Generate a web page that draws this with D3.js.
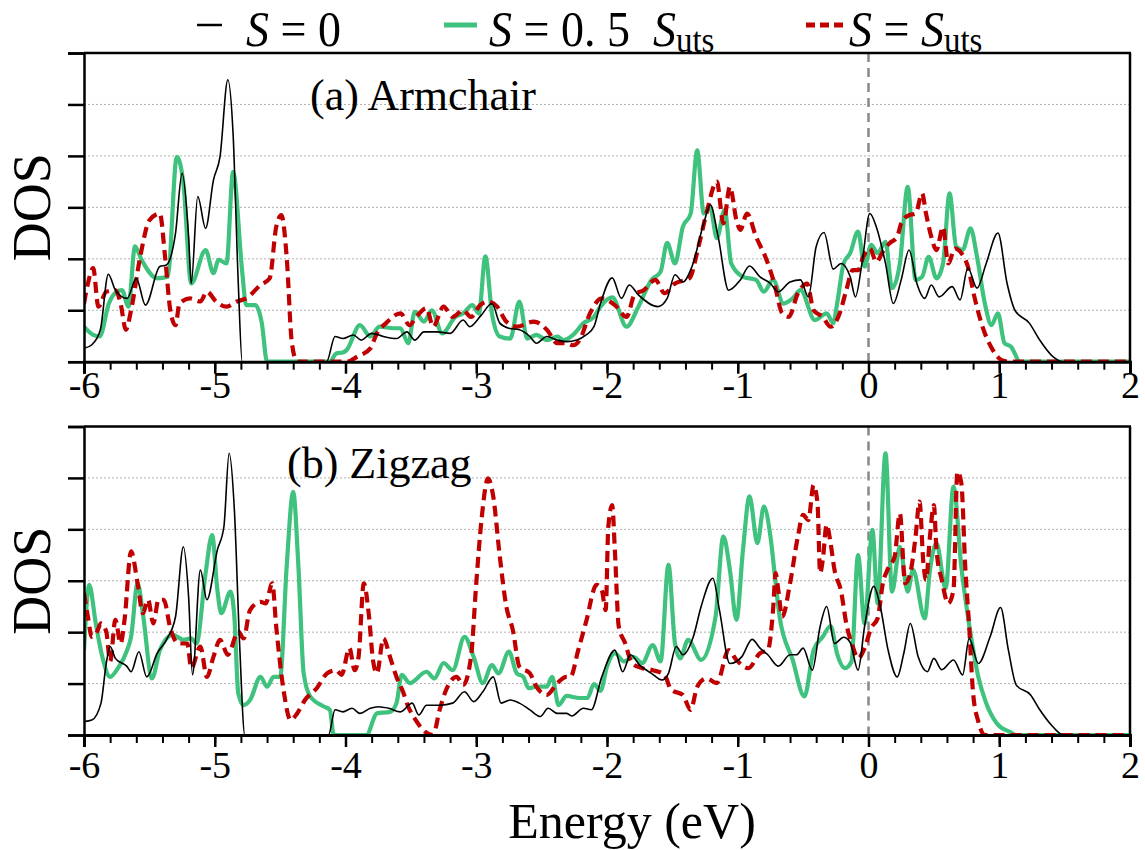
<!DOCTYPE html>
<html>
<head>
<meta charset="utf-8">
<script src="https://cdn.jsdelivr.net/npm/d3@7"></script>
<style>
  body { margin: 0; background: #fff; }
  text { font-family: "Liberation Serif", "Times New Roman", serif; fill: #000; white-space: pre; }
</style>
</head>
<body>
<div id="chart"></div>
<script>
var w = 1145;
var h = 850;

// energy ticks (eV) and DOS ticks
var energyTicks = [-6, -5, -4, -3, -2, -1, 0, 1, 2];
var dosTicks = [0, 1, 2, 3, 4, 5, 6];
var gridTicks = [1, 2, 3, 4, 5];

// (a) Armchair, [energy, DOS]
var armS0 = [[-6,0.26],[-5.94,0.33],[-5.875,0.62],[-5.814,1.70],[-5.76,1.39],[-5.67,1.23],[-5.60,1.62],[-5.53,1.10],[-5.42,1.85],[-5.37,1.88],[-5.30,2.50],[-5.25,3.66],[-5.20,2.43],[-5.18,1.52],[-5.13,3.21],[-5.07,2.59],[-5.01,3.53],[-4.96,3.98],[-4.90,5.48],[-4.86,4.44],[-4.82,1.52],[-4.79,0],[-4.145,0],[-4.08,0.49],[-4.02,0.45],[-3.94,0.52],[-3.88,0.42],[-3.80,0.55],[-3.71,0.49],[-3.61,0.45],[-3.53,0.58],[-3.47,0.42],[-3.40,0.58],[-3.30,0.58],[-3.20,0.55],[-3.10,0.81],[-3.05,0.68],[-2.96,0.91],[-2.88,1.13],[-2.82,0.75],[-2.75,0.65],[-2.67,0.62],[-2.59,0.49],[-2.54,0.36],[-2.46,0.49],[-2.38,0.42],[-2.31,0.39],[-2.23,0.42],[-2.16,0.52],[-2.10,0.68],[-2.05,1.13],[-1.96,1.63],[-1.89,1.23],[-1.83,1.49],[-1.76,1.30],[-1.61,1.07],[-1.54,1.23],[-1.48,1.69],[-1.42,1.55],[-1.35,1.85],[-1.26,2.69],[-1.21,3.05],[-1.15,2.43],[-1.07,1.39],[-0.98,1.59],[-0.91,1.86],[-0.83,1.65],[-0.75,1.52],[-0.69,1.36],[-0.60,1.55],[-0.52,1.59],[-0.46,1.26],[-0.40,2.24],[-0.34,2.51],[-0.27,1.80],[-0.21,1.91],[-0.14,1.65],[-0.10,1.26],[-0.05,1.91],[0.01,2.88],[0.06,2.62],[0.13,1.91],[0.19,1.13],[0.25,1.59],[0.31,2.17],[0.37,1.52],[0.43,1.23],[0.48,1.49],[0.54,1.26],[0.64,1.46],[0.70,1.20],[0.76,1.82],[0.83,1.43],[0.90,1.91],[0.99,2.50],[1.06,1.52],[1.12,1.00],[1.23,0.75],[1.31,0.42],[1.41,0.10],[1.49,0],[2,0]];
var armHalf = [[-6,0.68],[-5.93,0.52],[-5.88,0.49],[-5.81,1.13],[-5.75,1.36],[-5.71,1.39],[-5.66,1.07],[-5.61,2.24],[-5.56,1.98],[-5.44,1.62],[-5.36,1.65],[-5.29,3.98],[-5.24,3.47],[-5.18,1.52],[-5.07,2.17],[-5.01,1.72],[-4.97,1.98],[-4.91,1.91],[-4.86,3.69],[-4.79,1.75],[-4.76,1.10],[-4.69,1.10],[-4.64,0.75],[-4.60,0],[-4.12,0],[-4.07,0.16],[-4.02,0.18],[-3.99,0.23],[-3.89,0.71],[-3.81,0.49],[-3.74,0.68],[-3.63,0.65],[-3.58,0.65],[-3.52,0.36],[-3.47,0.97],[-3.40,0.78],[-3.34,1.00],[-3.26,0.55],[-3.16,0.87],[-3.10,0.94],[-3.03,1.10],[-2.98,0.94],[-2.93,2.05],[-2.88,0.94],[-2.82,0.49],[-2.74,0.45],[-2.67,1.17],[-2.61,0.45],[-2.54,0.52],[-2.46,0.42],[-2.38,0.49],[-2.33,0.42],[-2.26,0.52],[-2.18,0.75],[-2.10,0.87],[-2.05,1.07],[-1.96,1.25],[-1.85,0.68],[-1.76,1.07],[-1.66,1.59],[-1.59,1.75],[-1.54,2.31],[-1.48,1.91],[-1.42,2.62],[-1.36,2.88],[-1.31,4.11],[-1.26,2.88],[-1.21,2.98],[-1.16,2.40],[-1.10,2.95],[-1.05,1.91],[-0.96,1.65],[-0.86,1.59],[-0.80,1.36],[-0.73,1.59],[-0.65,1.13],[-0.58,1.23],[-0.52,1.39],[-0.41,0.81],[-0.32,0.94],[-0.27,0.75],[-0.24,1.13],[-0.19,1.91],[-0.14,2.11],[-0.08,2.53],[-0.03,1.85],[0.02,2.27],[0.07,2.11],[0.13,2.33],[0.18,1.43],[0.24,1.91],[0.30,3.40],[0.36,1.59],[0.41,1.65],[0.46,2.04],[0.52,1.62],[0.57,1.91],[0.62,3.27],[0.67,2.24],[0.72,2.17],[0.78,2.59],[0.83,2.04],[0.89,1.13],[0.94,0.71],[0.99,0.94],[1.04,0.36],[1.09,0.29],[1.16,0],[2,0]];
var armUts = [[-6,1.13],[-5.97,1.52],[-5.93,1.82],[-5.89,1.07],[-5.83,1.36],[-5.76,1.39],[-5.72,1.13],[-5.68,0.62],[-5.64,1.00],[-5.57,2.04],[-5.50,2.75],[-5.42,2.88],[-5.38,2.04],[-5.34,1.00],[-5.30,0.71],[-5.27,1.13],[-5.19,1.23],[-5.11,1.17],[-5.06,1.36],[-4.99,1.17],[-4.91,1.07],[-4.83,1.17],[-4.76,1.23],[-4.65,1.49],[-4.58,1.62],[-4.53,2.62],[-4.49,2.85],[-4.45,2.04],[-4.41,0.36],[-4.37,0],[-3.99,0],[-3.91,0.10],[-3.81,0.26],[-3.76,0.55],[-3.69,0.75],[-3.58,0.94],[-3.51,0.71],[-3.46,0.87],[-3.38,1.04],[-3.33,0.68],[-3.25,1.07],[-3.18,0.87],[-3.10,1.00],[-3.04,0.87],[-2.97,1.10],[-2.91,1.17],[-2.84,1.07],[-2.77,0.78],[-2.69,0.68],[-2.56,0.78],[-2.46,0.62],[-2.38,0.36],[-2.31,0.36],[-2.26,0.32],[-2.21,0.42],[-2.13,0.94],[-2.04,1.23],[-1.94,1.10],[-1.85,0.87],[-1.79,1.30],[-1.72,1.39],[-1.63,1.59],[-1.56,1.33],[-1.48,1.52],[-1.37,1.62],[-1.30,2.24],[-1.24,2.88],[-1.16,3.50],[-1.11,2.69],[-1.06,3.40],[-1.01,2.75],[-0.98,2.56],[-0.93,2.88],[-0.86,2.43],[-0.78,1.98],[-0.72,1.52],[-0.66,0.94],[-0.61,0.87],[-0.54,1.33],[-0.47,1.52],[-0.42,1.00],[-0.35,0.87],[-0.29,0.68],[-0.22,0.94],[-0.17,1.39],[-0.12,1.78],[-0.08,1.78],[-0.04,2.04],[0.01,2.20],[0.06,1.94],[0.11,2.14],[0.16,2.30],[0.22,2.43],[0.25,2.69],[0.31,2.85],[0.36,2.88],[0.41,3.27],[0.44,2.88],[0.48,2.43],[0.52,2.17],[0.57,2.62],[0.61,1.91],[0.66,2.20],[0.71,2.11],[0.76,1.85],[0.81,1.26],[0.88,0.62],[0.95,0.23],[1.02,0.03],[1.08,0],[2,0]];

// (b) Zigzag, [energy, DOS]
var zigS0 = [[-6,0.26],[-5.94,0.29],[-5.87,0.62],[-5.83,1.39],[-5.80,1.72],[-5.76,1.49],[-5.67,1.33],[-5.64,1.23],[-5.58,1.62],[-5.52,1.13],[-5.44,1.59],[-5.37,1.85],[-5.30,2.30],[-5.24,3.66],[-5.20,2.69],[-5.17,1.17],[-5.11,3.21],[-5.06,2.63],[-4.98,3.60],[-4.93,4.05],[-4.89,5.48],[-4.85,4.38],[-4.81,1.78],[-4.77,0],[-4.13,0],[-4.08,0.49],[-4.02,0.45],[-3.95,0.52],[-3.89,0.42],[-3.81,0.52],[-3.75,0.55],[-3.67,0.52],[-3.58,0.45],[-3.49,0.62],[-3.44,0.39],[-3.38,0.58],[-3.28,0.58],[-3.18,0.62],[-3.09,0.84],[-3.02,0.65],[-2.95,0.84],[-2.87,1.13],[-2.81,0.62],[-2.74,0.68],[-2.67,0.62],[-2.59,0.49],[-2.51,0.36],[-2.45,0.52],[-2.38,0.42],[-2.31,0.42],[-2.27,0.37],[-2.18,0.52],[-2.12,0.49],[-2.04,1.13],[-1.94,1.65],[-1.88,1.23],[-1.82,1.56],[-1.75,1.36],[-1.66,1.20],[-1.58,1.07],[-1.53,1.20],[-1.47,1.72],[-1.42,1.56],[-1.34,1.91],[-1.28,2.50],[-1.19,3.05],[-1.14,2.43],[-1.06,1.39],[-0.97,1.52],[-0.89,1.86],[-0.83,1.69],[-0.77,1.56],[-0.69,1.34],[-0.60,1.56],[-0.55,1.56],[-0.50,1.69],[-0.43,1.26],[-0.37,2.11],[-0.32,2.50],[-0.26,1.78],[-0.19,1.90],[-0.14,1.80],[-0.08,1.26],[-0.03,2.11],[0.04,2.89],[0.09,2.50],[0.15,1.65],[0.22,1.13],[0.27,1.59],[0.32,2.17],[0.38,1.52],[0.45,1.23],[0.50,1.49],[0.56,1.27],[0.65,1.46],[0.72,1.17],[0.77,1.88],[0.84,1.39],[0.93,1.91],[1.01,2.48],[1.07,1.65],[1.13,0.97],[1.24,0.78],[1.31,0.49],[1.40,0.19],[1.49,0],[2,0]];
var zigHalf = [[-6,1.65],[-5.96,2.92],[-5.91,2.17],[-5.86,1.52],[-5.80,1.13],[-5.74,1.30],[-5.67,1.65],[-5.64,1.91],[-5.59,2.95],[-5.55,2.37],[-5.48,1.10],[-5.42,1.65],[-5.32,1.95],[-5.24,1.85],[-5.18,1.88],[-5.14,1.78],[-5.07,3.15],[-5.02,3.89],[-4.98,2.82],[-4.95,2.37],[-4.88,2.79],[-4.85,2.30],[-4.82,0.81],[-4.78,0.58],[-4.73,0.68],[-4.65,1.13],[-4.60,0.94],[-4.55,1.13],[-4.50,1.13],[-4.45,3.27],[-4.40,4.73],[-4.36,3.27],[-4.32,1.20],[-4.27,0.75],[-4.17,0.56],[-4.12,0.49],[-4.09,0],[-3.84,0],[-3.76,0.42],[-3.66,0.45],[-3.61,0.62],[-3.57,1.17],[-3.51,1.01],[-3.38,1.23],[-3.32,1.10],[-3.25,1.40],[-3.18,1.26],[-3.09,1.91],[-3.02,1.52],[-2.95,1.01],[-2.88,1.36],[-2.83,1.20],[-2.75,1.62],[-2.69,1.20],[-2.64,1.13],[-2.60,0.91],[-2.54,0.94],[-2.46,0.94],[-2.42,1.13],[-2.37,0.58],[-2.31,0.76],[-2.21,0.72],[-2.15,0.72],[-2.10,0.99],[-2.05,0.86],[-2.00,1.33],[-1.94,1.59],[-1.87,1.43],[-1.80,1.52],[-1.73,1.40],[-1.65,1.75],[-1.59,1.43],[-1.53,3.31],[-1.48,1.78],[-1.44,1.49],[-1.38,1.85],[-1.28,1.46],[-1.17,2.30],[-1.11,3.86],[-1.06,3.21],[-1.01,2.24],[-0.96,3.60],[-0.91,4.64],[-0.85,3.73],[-0.80,4.44],[-0.75,3.86],[-0.71,2.95],[-0.68,2.30],[-0.58,1.46],[-0.49,0.75],[-0.42,1.65],[-0.35,1.91],[-0.29,2.12],[-0.24,1.58],[-0.18,1.30],[-0.13,1.43],[-0.08,3.50],[-0.03,2.17],[0.03,3.99],[0.07,2.56],[0.13,5.48],[0.18,2.79],[0.24,3.66],[0.30,2.79],[0.34,3.21],[0.43,2.27],[0.47,3.21],[0.52,3.73],[0.59,2.85],[0.65,4.83],[0.71,3.27],[0.78,1.98],[0.84,1.13],[0.90,0.62],[0.98,0.23],[1.08,0.06],[1.13,0],[2,0]];
var zigUts = [[-6,2.76],[-5.97,2.30],[-5.94,1.91],[-5.90,2.01],[-5.87,2.17],[-5.83,2.01],[-5.80,1.43],[-5.76,2.24],[-5.72,1.78],[-5.69,2.24],[-5.64,3.57],[-5.59,2.95],[-5.55,2.37],[-5.51,2.63],[-5.47,2.17],[-5.43,2.63],[-5.39,2.63],[-5.34,2.08],[-5.28,1.78],[-5.21,1.78],[-5.18,1.30],[-5.11,1.72],[-5.06,1.13],[-5.01,1.52],[-4.96,1.85],[-4.90,1.56],[-4.82,2.01],[-4.78,1.88],[-4.73,2.43],[-4.65,2.59],[-4.61,2.56],[-4.56,2.95],[-4.53,2.11],[-4.47,0.81],[-4.42,0.29],[-4.37,0.42],[-4.31,0.68],[-4.22,0.91],[-4.14,1.20],[-4.07,1.26],[-4.03,1.17],[-3.97,1.69],[-3.93,1.26],[-3.90,1.52],[-3.86,2.95],[-3.82,2.30],[-3.79,1.46],[-3.76,1.20],[-3.71,1.88],[-3.66,1.52],[-3.61,1.13],[-3.56,0.84],[-3.52,0.55],[-3.47,0.32],[-3.39,0.06],[-3.33,0],[-3.28,0.49],[-3.23,0.88],[-3.15,1.13],[-3.10,0.97],[-3.04,1.52],[-3.00,2.95],[-2.96,4.18],[-2.91,4.99],[-2.87,4.64],[-2.82,3.47],[-2.77,2.50],[-2.72,2.04],[-2.67,1.33],[-2.59,1.20],[-2.54,0.94],[-2.46,0.78],[-2.38,1.01],[-2.31,1.13],[-2.28,1.13],[-2.22,1.65],[-2.16,2.20],[-2.08,2.92],[-2.04,2.82],[-2.01,2.43],[-1.99,4.05],[-1.96,4.47],[-1.94,3.60],[-1.91,2.11],[-1.86,1.78],[-1.81,1.40],[-1.73,1.30],[-1.65,1.26],[-1.56,1.17],[-1.51,0.88],[-1.42,0.78],[-1.36,0.49],[-1.31,0.94],[-1.24,1.10],[-1.16,1.01],[-1.07,1.65],[-1.01,1.46],[-0.92,1.30],[-0.83,1.59],[-0.77,1.65],[-0.73,2.43],[-0.71,3.15],[-0.69,2.82],[-0.66,2.30],[-0.60,2.95],[-0.54,3.86],[-0.50,4.28],[-0.46,4.18],[-0.42,4.86],[-0.39,4.51],[-0.37,3.15],[-0.35,3.40],[-0.32,4.09],[-0.29,3.73],[-0.26,3.21],[-0.21,2.80],[-0.17,2.17],[-0.12,1.72],[-0.08,1.49],[-0.03,1.69],[0.02,2.08],[0.07,2.27],[0.11,2.95],[0.15,3.24],[0.20,3.47],[0.24,4.31],[0.28,2.95],[0.32,3.15],[0.36,3.86],[0.39,4.54],[0.42,3.34],[0.44,3.02],[0.47,3.86],[0.50,4.47],[0.52,3.60],[0.56,3.02],[0.61,2.56],[0.65,2.82],[0.68,5.12],[0.71,4.90],[0.74,3.27],[0.77,2.11],[0.80,0.81],[0.84,0.26],[0.89,0],[2,0]];

var black = "#000";
var green = "#3fc27e";
var red = "#c00000";

var svg = d3.select("#chart")
  .append("svg")
  .attr("width", w)
  .attr("height", h);

var x = d3.scaleLinear().domain([-6, 2]).range([84, 1130]);

var panels = [
  {top: 53, bottom: 361.7, pad: -3, label: "(a) Armchair", lx: 310, ly: 110, s0: armS0, half: armHalf, uts: armUts},
  {top: 426.5, bottom: 735, pad: 4, label: "(b) Zigzag", lx: 287, ly: 478, s0: zigS0, half: zigHalf, uts: zigUts}
];

panels.forEach(function(p, k) {
  var y = d3.scaleLinear().domain([0, 6]).range([p.bottom, p.top]);
  var g = svg.append("g");

  g.append("clipPath").attr("id", "clip" + k)
    .append("rect")
    .attr("x", x(-6)).attr("y", p.top)
    .attr("width", x(2) - x(-6)).attr("height", p.bottom - p.top);

  // dotted grid
  g.selectAll(".grid")
    .data(gridTicks)
    .enter()
    .append("line")
    .attr("x1", x(-6)).attr("x2", x(2))
    .attr("y1", function(d) { return y(d); })
    .attr("y2", function(d) { return y(d); })
    .attr("stroke", "#b0b0b0")
    .attr("stroke-width", 1)
    .attr("stroke-dasharray", "2,2");

  // Fermi level
  g.append("line")
    .attr("x1", x(0)).attr("x2", x(0))
    .attr("y1", p.top).attr("y2", p.bottom)
    .attr("stroke", "#888")
    .attr("stroke-width", 2.5)
    .attr("stroke-dasharray", "9,6");

  var line = d3.line()
    .x(function(d) { return x(d[0]); })
    .y(function(d) { return y(d[1]); })
    .curve(d3.curveMonotoneX);

  var lines = g.append("g").attr("clip-path", "url(#clip" + k + ")");
  lines.append("path").attr("d", line(p.half))
    .attr("fill", "none").attr("stroke", green).attr("stroke-width", 4.2);
  lines.append("path").attr("d", line(p.uts))
    .attr("fill", "none").attr("stroke", red).attr("stroke-width", 4.2)
    .attr("stroke-dasharray", "11,6");
  lines.append("path").attr("d", line(p.s0))
    .attr("fill", "none").attr("stroke", black).attr("stroke-width", 1.6);

  // top and right frame
  g.append("line").attr("x1", x(-6)).attr("x2", x(2) + 1)
    .attr("y1", p.top).attr("y2", p.top)
    .attr("stroke", "#000").attr("stroke-width", 2.5);
  g.append("line").attr("x1", x(2)).attr("x2", x(2))
    .attr("y1", p.top).attr("y2", p.bottom)
    .attr("stroke", "#000").attr("stroke-width", 2.5);

  // left axis, no labels
  var yAxis = g.append("g")
    .attr("transform", "translate(" + x(-6) + ",0)")
    .call(d3.axisLeft(y).tickValues(dosTicks).tickSize(16).tickFormat(""));
  yAxis.select(".domain").attr("stroke-width", 2.5);
  yAxis.selectAll(".tick line").attr("stroke-width", 2.5);

  // minor energy ticks
  var minor = d3.range(-30, 11).map(function(i) { return i / 5; });
  var xMinor = g.append("g")
    .attr("transform", "translate(0," + p.bottom + ")")
    .call(d3.axisBottom(x).tickValues(minor).tickSize(8).tickFormat(""));
  xMinor.select(".domain").remove();
  xMinor.selectAll(".tick line").attr("stroke-width", 2);

  // major energy ticks with labels
  var xAxis = g.append("g")
    .attr("transform", "translate(0," + p.bottom + ")")
    .call(d3.axisBottom(x).tickValues(energyTicks).tickSize(12).tickPadding(p.pad)
      .tickFormat(function(d) { return d < 0 ? "-" + Math.abs(d) : d; }));
  xAxis.select(".domain").attr("stroke-width", 3);
  xAxis.selectAll(".tick line").attr("stroke-width", 2.5);
  xAxis.selectAll("text")
    .style("font-family", "Liberation Serif, serif")
    .style("font-size", "38px")
    .attr("fill", "#000");

  // y label
  g.append("text")
    .attr("transform", "translate(50," + ((p.top + p.bottom) / 2) + ") rotate(-90)")
    .attr("text-anchor", "middle")
    .style("font-size", "54px")
    .text("DOS");

  // panel label
  g.append("text")
    .attr("x", p.lx).attr("y", p.ly)
    .style("font-size", "44px")
    .text(p.label);
});

// x label
svg.append("text")
  .attr("x", 632).attr("y", 838)
  .attr("text-anchor", "middle")
  .style("font-size", "50px")
  .text("Energy (eV)");

// legend, glyphs stretched a little in height like the original
var legend = svg.append("g");
legend.append("line").attr("x1", 197).attr("x2", 222).attr("y1", 25).attr("y2", 25)
  .attr("stroke", black).attr("stroke-width", 2.5);
var t1 = legend.append("text").attr("transform", "translate(246,46) scale(1,1.1)").style("font-size", "46px");
t1.append("tspan").style("font-style", "italic").text("S");
t1.append("tspan").text(" = 0");

legend.append("line").attr("x1", 444).attr("x2", 477).attr("y1", 25).attr("y2", 25)
  .attr("stroke", green).attr("stroke-width", 5);
var t2 = legend.append("text").attr("transform", "translate(489,46) scale(1,1.1)").style("font-size", "46px");
t2.append("tspan").style("font-style", "italic").text("S");
t2.append("tspan").text(" = 0. 5  ");
t2.append("tspan").style("font-style", "italic").text("S");
t2.append("tspan").attr("dy", 5).style("font-size", "33px").text("uts");

legend.append("line").attr("x1", 806).attr("x2", 845).attr("y1", 25).attr("y2", 25)
  .attr("stroke", red).attr("stroke-width", 5).attr("stroke-dasharray", "9,5");
var t3 = legend.append("text").attr("transform", "translate(849,46) scale(1,1.1)").style("font-size", "46px");
t3.append("tspan").style("font-style", "italic").text("S");
t3.append("tspan").text(" = ");
t3.append("tspan").style("font-style", "italic").text("S");
t3.append("tspan").attr("dy", 5).style("font-size", "33px").text("uts");
</script>
</body>
</html>
